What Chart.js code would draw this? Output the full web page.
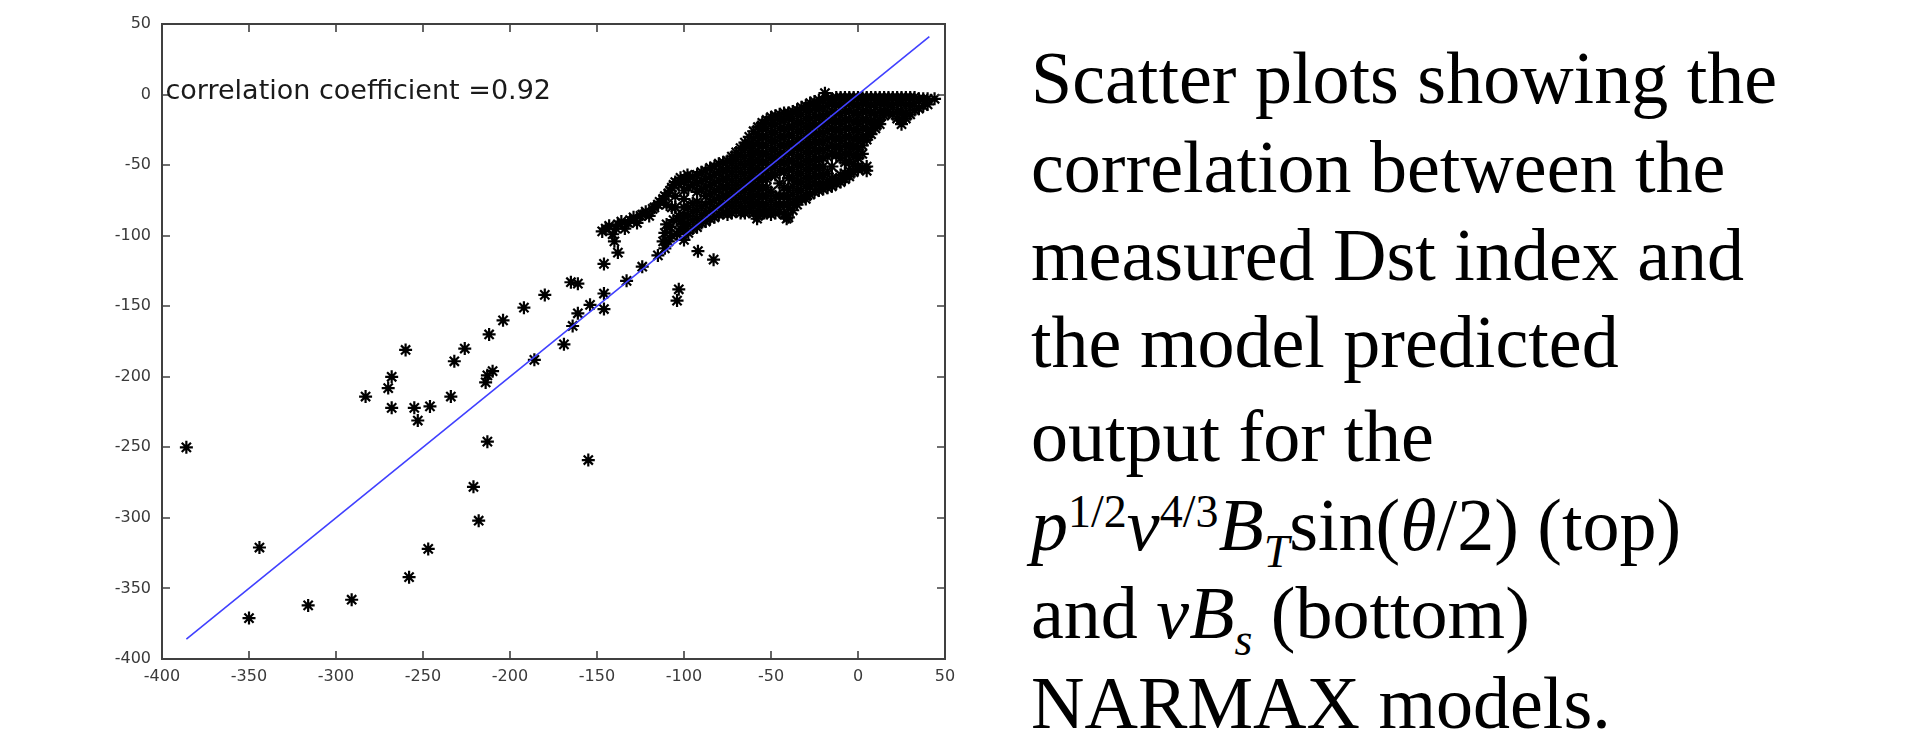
<!DOCTYPE html>
<html>
<head>
<meta charset="utf-8">
<script src="https://cdn.jsdelivr.net/npm/chart.js@4.4.1/dist/chart.umd.min.js"></script>
<style>
    html, body { margin: 0; padding: 0; background: #fff; overflow: hidden; }
    #wrap { position: absolute; left: 0; top: 0; width: 990px; height: 746px; }
    .caption {
        position: absolute; left: 1031px;
        font-family: "Liberation Serif", "Times New Roman", serif;
        font-size: 74px; line-height: 74px; white-space: nowrap; color: #000;
    }
    .sm { font-size: 46px; position: relative; }
    .up { top: -23px; }
    .dn { top: 17px; }
</style>
</head>
<body>
<div id="wrap"><canvas id="dst" width="990" height="746"></canvas></div>

<div class="caption" style="top:41px">Scatter plots showing the</div>
<div class="caption" style="top:130px">correlation between the</div>
<div class="caption" style="top:218px">measured Dst index and</div>
<div class="caption" style="top:305px">the model predicted</div>
<div class="caption" style="top:399px">output for the</div>
<div class="caption" style="top:488px"><i>p</i><span class="sm up">1/2</span><i>v</i><span class="sm up">4/3</span><i>B</i><span class="sm dn"><i>T</i></span>sin(<i>θ</i>/2) (top)</div>
<div class="caption" style="top:576px">and <i>vB</i><span class="sm dn"><i>s</i></span> (bottom)</div>
<div class="caption" style="top:666px">NARMAX models.</div>

<script>
// ---- data ----
const xTicks = [-400, -350, -300, -250, -200, -150, -100, -50, 0, 50];
const yTicks = [-400, -350, -300, -250, -200, -150, -100, -50, 0, 50];

const fitX = [-386, 41];
const fitY = [-386, 41];

const corrText = 'correlation coefficient =0.92';

// isolated storm-time points
const stormPoints = [
    [-386, -250], [-350, -371], [-344, -321], [-316, -362], [-291, -358],
    [-283, -214], [-270, -208], [-268, -200], [-268, -222], [-260, -181],
    [-258, -342], [-255, -222], [-253, -231], [-247, -322], [-246, -221],
    [-234, -214], [-232, -189], [-226, -180], [-221, -278], [-218, -302],
    [-214, -204], [-213, -199], [-213, -246], [-212, -170], [-210, -196],
    [-204, -160], [-192, -151], [-186, -188], [-180, -142], [-169, -177],
    [-165, -133], [-164, -164], [-161, -134], [-161, -155], [-155, -259],
    [-154, -149], [-146, -152], [-146, -141], [-146, -120], [-140, -104],
    [-138, -112], [-133, -132], [-124, -122], [-115, -114], [-111, -109],
    [-104, -146], [-103, -138], [-92, -111], [-83, -117]
];

// arm of points leading into the dense cluster
const armPoints = [
    [-147, -97], [-143, -93], [-141, -99], [-139, -95], [-136, -90],
    [-134, -95], [-132, -91], [-129, -87], [-127, -91], [-125, -86],
    [-122, -83], [-120, -86], [-118, -81], [-115, -78], [-112, -74],
    [-109, -70], [-107, -66], [-105, -62], [-102, -59], [-98, -57],
    [-111, -98], [-109, -104], [-108, -94], [-106, -89], [-104, -99],
    [-100, -103], [-105, -72], [-105, -80], [-103, -86], [-100, -74],
    [-145, -95], [-138, -92], [-131, -89], [-124, -85], [-117, -80],
    [-114, -76], [-111, -72], [-108, -68], [-106, -64], [-103, -63],
    [-110, -92], [-107, -100], [-112, -104], [-102, -95], [-102, -90],
    [-107, -80], [-110, -78]
];

// dense cluster, read column by column
const clusterX = [-100, -95, -90, -85, -80, -75, -70, -65, -60, -55, -50, -45, -40, -35,
    -30, -25, -20, -15, -10, -5, 0, 5, 10, 15, 20, 25, 30, 35, 40, 44];
const clusterY = [
    [-62, -68, -80, -86, -92, -97],
    [-58, -64, -77, -83, -89, -95],
    [-55, -61, -67, -79, -85, -91],
    [-52, -58, -64, -70, -76, -82, -88],
    [-49, -55, -61, -67, -73, -79, -85],
    [-47, -52, -58, -64, -70, -76, -82, -85],
    [-41, -46, -52, -58, -64, -70, -76, -82],
    [-34, -38, -44, -50, -56, -62, -68, -74, -80, -84],
    [-26, -31, -37, -43, -49, -55, -61, -67, -73, -79, -84],
    [-20, -24, -30, -36, -42, -48, -54, -60, -66, -72, -78, -84],
    [-16, -21, -27, -33, -39, -45, -51, -57, -69, -75, -81, -85],
    [-14, -18, -24, -30, -36, -42, -48, -54, -63, -72, -78, -83],
    [-13, -17, -23, -29, -35, -41, -47, -53, -59, -68, -74, -80, -87],
    [-11, -14, -20, -26, -32, -38, -44, -50, -56, -62, -68, -74, -78],
    [-8, -11, -17, -23, -29, -35, -41, -47, -53, -59, -65, -71, -74],
    [-5, -8, -14, -20, -26, -32, -38, -44, -50, -56, -62, -69],
    [-4, -9, -15, -21, -27, -33, -39, -45, -51, -57, -63, -67],
    [-3, -6, -12, -18, -24, -30, -36, -42, -51, -60, -65],
    [-2, -9, -15, -21, -27, -33, -39, -45, -57, -62],
    [-2, -6, -12, -18, -24, -30, -36, -42, -48, -54, -58],
    [-2, -9, -15, -21, -27, -33, -39, -45, -51, -53],
    [-2, -6, -12, -18, -24, -30, -32, -51, -54],
    [-2, -9, -15, -21, -24],
    [-2, -6, -12, -15],
    [-2, -9, -14],
    [-2, -6, -12, -18, -21],
    [-2, -8, -14],
    [-3, -10],
    [-3, -7],
    [-3]
];

// points between the columns above
const clusterMidX = [-97.5, -92.5, -87.5, -82.5, -77.5, -72.5, -67.5, -62.5, -57.5, -52.5,
    -47.5, -42.5, -37.5, -32.5, -27.5, -22.5, -17.5, -12.5, -7.5, -2.5, 2.5, 7.5, 12.5,
    17.5, 22.5, 27.5, 32.5, 37.5];
const clusterMidY = [
    [-60, -66, -80, -86, -92, -98],
    [-57, -63, -69, -76, -82, -88, -94],
    [-54, -60, -66, -72, -78, -84, -90],
    [-51, -57, -63, -69, -75, -81, -87],
    [-48, -54, -60, -66, -72, -78, -84],
    [-44, -49, -55, -61, -67, -73, -79, -84],
    [-38, -43, -49, -55, -61, -67, -73, -79, -84],
    [-30, -35, -41, -47, -53, -59, -65, -71, -77, -83],
    [-23, -28, -34, -40, -46, -52, -58, -64, -70, -76, -82, -86],
    [-18, -24, -30, -36, -42, -48, -54, -60, -66, -72, -78, -84],
    [-15, -21, -27, -33, -39, -45, -51, -57, -72, -78, -84],
    [-13, -18, -24, -30, -36, -42, -48, -54, -66, -72, -78, -85],
    [-12, -17, -23, -29, -35, -41, -47, -53, -59, -65, -71, -77, -82],
    [-9, -14, -20, -26, -32, -38, -44, -50, -56, -62, -68, -74],
    [-6, -11, -17, -23, -29, -35, -41, -47, -53, -59, -65, -71],
    [-4, -10, -16, -22, -28, -34, -40, -46, -52, -58, -64, -68],
    [-3, -8, -14, -20, -26, -32, -38, -44, -56, -62, -66],
    [-2, -7, -13, -19, -25, -31, -37, -43, -60, -63],
    [-2, -6, -12, -18, -24, -30, -36, -42, -48, -56, -60],
    [-2, -7, -13, -19, -25, -31, -37, -43, -49, -55],
    [-2, -6, -12, -18, -24, -30, -36, -42, -52],
    [-2, -7, -13, -19, -25, -28],
    [-2, -6, -12, -18, -21],
    [-2, -7, -12],
    [-2, -6, -12, -17],
    [-2, -7, -13, -17],
    [-2, -6, -11],
    [-3, -8]
];
const extraPoints = [[-19, 1], [-41, -88], [-58, -88], [-54, -84], [-5, -37]];

// ---- build datasets ----
const scatterData = [];
stormPoints.concat(armPoints, extraPoints).forEach(p => scatterData.push({ x: p[0], y: p[1] }));
clusterX.forEach((x, i) => {
    clusterY[i].forEach(y => scatterData.push({ x: x, y: y }));
});
clusterMidX.forEach((x, i) => {
    clusterMidY[i].forEach(y => scatterData.push({ x: x, y: y }));
});
const fitData = fitX.map((x, i) => ({ x: x, y: fitY[i] }));

// Matlab style box with inward ticks plus the text label
const matlabBox = {
    id: 'matlabBox',
    afterDraw(chart) {
        const { ctx, chartArea: a, scales: { x, y } } = chart;
        ctx.save();
        ctx.strokeStyle = '#404040';
        ctx.lineWidth = 2;
        ctx.strokeRect(a.left, a.top, a.right - a.left, a.bottom - a.top);

        ctx.lineWidth = 1.6;
        ctx.beginPath();
        xTicks.forEach(v => {
            const px = Math.round(x.getPixelForValue(v));
            ctx.moveTo(px, a.bottom); ctx.lineTo(px, a.bottom - 8);
            ctx.moveTo(px, a.top); ctx.lineTo(px, a.top + 8);
        });
        yTicks.forEach(v => {
            const py = Math.round(y.getPixelForValue(v));
            ctx.moveTo(a.left, py); ctx.lineTo(a.left + 8, py);
            ctx.moveTo(a.right, py); ctx.lineTo(a.right - 8, py);
        });
        ctx.stroke();

        ctx.fillStyle = '#1a1a1a';
        ctx.font = '27px "DejaVu Sans"';
        ctx.textAlign = 'left';
        ctx.textBaseline = 'alphabetic';
        ctx.fillText(corrText, x.getPixelForValue(-398), y.getPixelForValue(-3));
        ctx.restore();
    }
};

const tickFont = { family: 'DejaVu Sans', size: 16 };

new Chart(document.getElementById('dst'), {
    type: 'scatter',
    data: {
        datasets: [
            {
                data: fitData,
                showLine: true,
                borderColor: '#4040ff',
                borderWidth: 1.6,
                pointRadius: 0,
                order: 0
            },
            {
                data: scatterData,
                pointStyle: 'star',
                pointRadius: 6.5,
                borderColor: '#000',
                backgroundColor: '#000',
                borderWidth: 2.2,
                order: 1
            }
        ]
    },
    options: {
        responsive: false,
        animation: false,
        devicePixelRatio: 1,
        layout: { padding: { top: 24, right: 45, left: 0, bottom: 0 } },
        plugins: {
            legend: { display: false },
            tooltip: { enabled: false }
        },
        scales: {
            x: {
                type: 'linear', min: -400, max: 50,
                grid: { display: false, drawTicks: false },
                border: { display: false },
                afterBuildTicks: s => { s.ticks = xTicks.map(v => ({ value: v })); },
                afterFit: s => { s.height = 87; },
                ticks: { font: tickFont, color: '#3a3a3a', padding: 8, maxRotation: 0, autoSkip: false }
            },
            y: {
                type: 'linear', min: -400, max: 50,
                grid: { display: false, drawTicks: false },
                border: { display: false },
                afterBuildTicks: s => { s.ticks = yTicks.map(v => ({ value: v })); },
                afterFit: s => { s.width = 162; },
                ticks: { font: tickFont, color: '#3a3a3a', padding: 11, autoSkip: false }
            }
        }
    },
    plugins: [matlabBox]
});
</script>
</body>
</html>
